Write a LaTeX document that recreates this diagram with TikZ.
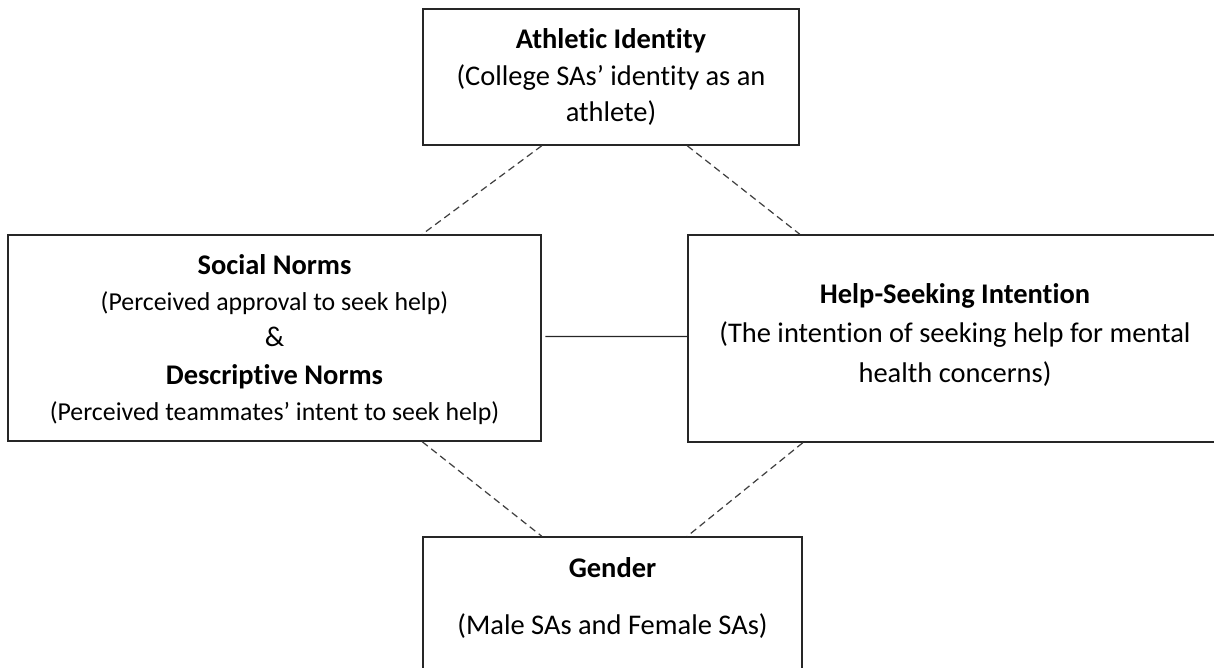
\documentclass[tikz,border=0pt]{standalone}
\usepackage{fontspec}
\setmainfont{Carlito}[Ligatures=NoCommon]
\usepackage{tikz}

\newcommand{\smalltext}[1]{{\fontsize{14.7}{20.5}\selectfont #1}}

\begin{document}
\begin{tikzpicture}[x=0.02cm,y=-0.02cm,
	box/.style={draw=black!85,line width=0.9pt,align=center,inner sep=0pt,font=\fontsize{16.2}{20.5}\selectfont},
	link/.style={black!75,line width=0.7pt,dash pattern=on 4pt off 2.5pt}]
			
			\useasboundingbox (0,0) rectangle (1214,668);
			\clip (0,0) rectangle (1214,668);
			
			\node[box,minimum width=7.52cm,minimum height=2.72cm] (athletic) at (611,77) {\textbf{Athletic Identity}\\(College SAs’ identity as an\\athlete)};
			\node[box,minimum width=10.66cm,minimum height=4.12cm] (social) at (274.5,338) {\textbf{Social Norms}\\\smalltext{(Perceived approval to seek help)}\\\&\\[1pt]\textbf{Descriptive Norms}\\\smalltext{(Perceived teammates’ intent to seek help)}\\[-20pt]\mbox{}};
			\node[box,minimum width=10.68cm,minimum height=4.14cm] (helpseek) at (955,338.5) {\textbf{Help-Seeking Intention}\\[2pt](The intention of seeking help for mental\\[2pt]health concerns)\\[-14pt]\mbox{}};
			\node[box,minimum width=7.58cm,minimum height=3.2cm] (gender) at (612.5,617) {\textbf{Gender}\\[12pt](Male SAs and Female SAs)\\[3pt]\mbox{}};
			
			\draw[link] (social.north east |- athletic.south) -- (athletic.west |- social.north);
			\draw[link] (helpseek.north west |- athletic.south) -- (athletic.east |- helpseek.north);
			\draw[link] (gender.west |- social.south) -- (social.east |- gender.north);
			\draw[link] (gender.east |- helpseek.south) -- (helpseek.west |- gender.north);
			\draw[black!85,line width=0.7pt,shorten <=2pt] ([yshift=0.03cm]social.east) -- ([yshift=0.04cm]helpseek.west);
			
		\end{tikzpicture}
\end{document}
